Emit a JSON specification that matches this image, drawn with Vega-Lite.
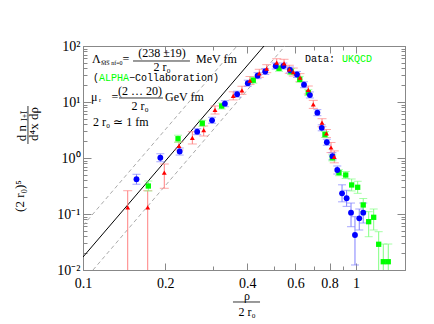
{
  "$schema": "https://vega.github.io/schema/vega-lite/v6.json",
  "width": 322,
  "height": 224,
  "autosize": {"type": "none"},
  "padding": {"left": 83, "top": 46, "right": 29, "bottom": 54},
  "background": "white",
  "config": {
    "view": {"stroke": "#888888", "strokeWidth": 1},
    "axis": {"grid": false, "domainColor": "#888888", "tickColor": "#888888", "labelFont": "Liberation Serif", "labelFontSize": 14, "labelColor": "#000000"}
  },
  "datasets": {
    "blue": [
      {"x": 0.157, "y": 0.417, "lo": 0.340, "hi": 0.512},
      {"x": 0.192, "y": 1.01, "lo": 0.857, "hi": 1.19},
      {"x": 0.226, "y": 1.31, "lo": 1.13, "hi": 1.51},
      {"x": 0.262, "y": 2.95, "lo": 2.61, "hi": 3.34},
      {"x": 0.297, "y": 4.71, "lo": 4.17, "hi": 5.33},
      {"x": 0.331, "y": 9.33, "lo": 8.25, "hi": 10.55},
      {"x": 0.367, "y": 13.8, "lo": 12.2, "hi": 15.6},
      {"x": 0.4015, "y": 21.7, "lo": 19.2, "hi": 24.5},
      {"x": 0.436, "y": 29.5, "lo": 26.1, "hi": 33.4},
      {"x": 0.465, "y": 35.1, "lo": 31.0, "hi": 39.7},
      {"x": 0.508, "y": 43.9, "lo": 38.8, "hi": 49.7},
      {"x": 0.542, "y": 43.9, "lo": 38.8, "hi": 49.7},
      {"x": 0.573, "y": 37.3, "lo": 33.0, "hi": 42.2},
      {"x": 0.608, "y": 31.0, "lo": 27.4, "hi": 35.1},
      {"x": 0.645, "y": 20.4, "lo": 18.0, "hi": 23.0},
      {"x": 0.678, "y": 13.3, "lo": 11.8, "hi": 15.1},
      {"x": 0.722, "y": 6.44, "lo": 5.7, "hi": 7.3},
      {"x": 0.749, "y": 3.46, "lo": 3.06, "hi": 3.91},
      {"x": 0.782, "y": 1.91, "lo": 1.69, "hi": 2.16},
      {"x": 0.820, "y": 1.08, "lo": 0.93, "hi": 1.24},
      {"x": 0.854, "y": 0.611, "lo": 0.518, "hi": 0.72},
      {"x": 0.889, "y": 0.234, "lo": 0.165, "hi": 0.332},
      {"x": 0.924, "y": 0.191, "lo": 0.137, "hi": 0.265},
      {"x": 0.959, "y": 0.1055, "lo": 0.0593, "hi": 0.157},
      {"x": 0.9915, "y": 0.0422, "lo": 0.0123, "hi": 0.0895},
      {"x": 1.028, "y": 0.0838, "lo": 0.0518, "hi": 0.1228},
      {"x": 1.063, "y": 0.1055, "lo": 0.069, "hi": 0.157}
    ],
    "red": [
      {"x": 0.1458, "y": 0.1318, "lo": 0.001, "hi": 0.2606},
      {"x": 0.1726, "y": 0.1318, "lo": 0.001, "hi": 0.2606},
      {"x": 0.1985, "y": 0.5465, "lo": 0.288, "hi": 0.781},
      {"x": 0.2247, "y": 1.64, "lo": 1.39, "hi": 1.93},
      {"x": 0.2515, "y": 2.28, "lo": 1.78, "hi": 2.95},
      {"x": 0.2768, "y": 3.16, "lo": 2.47, "hi": 3.73},
      {"x": 0.3045, "y": 7.2, "lo": 6.1, "hi": 8.5},
      {"x": 0.3551, "y": 12.9, "lo": 10.9, "hi": 15.2},
      {"x": 0.3822, "y": 16.2, "lo": 13.7, "hi": 19.1},
      {"x": 0.409, "y": 24.2, "lo": 20.5, "hi": 28.5},
      {"x": 0.4423, "y": 32.5, "lo": 27.6, "hi": 38.4},
      {"x": 0.471, "y": 39.3, "lo": 33.4, "hi": 46.4},
      {"x": 0.5124, "y": 50.3, "lo": 42.7, "hi": 59.3},
      {"x": 0.5451, "y": 49.1, "lo": 41.7, "hi": 57.9},
      {"x": 0.5698, "y": 38.4, "lo": 32.6, "hi": 45.3},
      {"x": 0.5893, "y": 34.3, "lo": 29.1, "hi": 40.4},
      {"x": 0.6235, "y": 27.2, "lo": 23.1, "hi": 32.1},
      {"x": 0.6688, "y": 16.4, "lo": 13.9, "hi": 19.3},
      {"x": 0.6975, "y": 9.1, "lo": 7.7, "hi": 10.7},
      {"x": 0.7508, "y": 4.27, "lo": 3.62, "hi": 5.03},
      {"x": 0.7796, "y": 2.74, "lo": 2.32, "hi": 3.23},
      {"x": 0.81, "y": 1.54, "lo": 1.25, "hi": 1.89},
      {"x": 0.8327, "y": 1.05, "lo": 0.82, "hi": 1.34}
    ],
    "green": [
      {"x": 0.1735, "y": 0.316, "lo": 0.258, "hi": 0.388},
      {"x": 0.2229, "y": 2.21, "lo": 1.91, "hi": 2.55},
      {"x": 0.2735, "y": 4.17, "lo": 3.69, "hi": 4.72},
      {"x": 0.3221, "y": 8.48, "lo": 7.5, "hi": 9.59},
      {"x": 0.4205, "y": 24.5, "lo": 21.7, "hi": 27.7},
      {"x": 0.5224, "y": 40.0, "lo": 35.4, "hi": 45.2},
      {"x": 0.578, "y": 34.8, "lo": 30.8, "hi": 39.4},
      {"x": 0.6223, "y": 25.4, "lo": 22.5, "hi": 28.7},
      {"x": 0.6688, "y": 14.7, "lo": 13.0, "hi": 16.6},
      {"x": 0.7697, "y": 2.63, "lo": 2.33, "hi": 2.97},
      {"x": 0.819, "y": 1.01, "lo": 0.89, "hi": 1.14},
      {"x": 0.8664, "y": 0.5465, "lo": 0.483, "hi": 0.618},
      {"x": 0.917, "y": 0.497, "lo": 0.43, "hi": 0.574},
      {"x": 0.9643, "y": 0.33, "lo": 0.258, "hi": 0.422},
      {"x": 1.0144, "y": 0.30, "lo": 0.234, "hi": 0.384},
      {"x": 1.063, "y": 0.145, "lo": 0.111, "hi": 0.189},
      {"x": 1.113, "y": 0.0729, "lo": 0.0393, "hi": 0.11},
      {"x": 1.161, "y": 0.0873, "lo": 0.0518, "hi": 0.1228},
      {"x": 1.211, "y": 0.0288, "lo": 0.001, "hi": 0.0483},
      {"x": 1.259, "y": 0.01406, "lo": 0.001, "hi": 0.0291},
      {"x": 1.313, "y": 0.01406, "lo": 0.001, "hi": 0.0291}
    ],
    "solid": [
      {"x": 0.1, "y": 0.01706},
      {"x": 0.4603, "y": 100}
    ],
    "dashed": [
      {"id": "upper", "x": 0.1, "y": 0.0621},
      {"id": "upper", "x": 0.3665, "y": 100},
      {"id": "lower", "x": 0.1088, "y": 0.01},
      {"id": "lower", "x": 0.5495, "y": 100}
    ],
    "serifLeft": [
      {"x": 0.1079, "y": 58.6, "t": "Λ"},
      {"x": 0.2594, "y": 58.6, "t": "MeV fm"},
      {"x": 0.107, "y": 12.29, "t": "μ"},
      {"x": 0.1997, "y": 12.29, "t": "GeV fm"},
      {"x": 0.1088, "y": 4.394, "t": "2 r₀ ≃ 1 fm"}
    ],
    "serifCenter": [
      {"x": 0.1437, "y": 58.6, "t": "="},
      {"x": 0.1948, "y": 75.0, "t": "(238  ±19)"},
      {"x": 0.1948, "y": 42.17, "t": "2 r₀"},
      {"x": 0.131, "y": 12.29, "t": "="},
      {"x": 0.1618, "y": 15.72, "t": "(2 … 20)"},
      {"x": 0.1618, "y": 8.483, "t": "2 r₀"},
      {"x": 0.3988, "y": 0.003435, "t": "ρ"},
      {"x": 0.3988, "y": 0.001778, "t": "2 r₀"}
    ],
    "serifSub": [
      {"x": 0.1164, "y": 49.7, "t": "M̅S̅ nf=0"},
      {"x": 0.1144, "y": 10.86, "t": "r"}
    ],
    "monoBlack": [
      {"x": 0.1088, "y": 26.83, "t": "("},
      {"x": 0.1474, "y": 26.83, "t": "−Collaboration)"},
      {"x": 0.6505, "y": 58.6, "t": "Data:"}
    ],
    "monoGreen": [
      {"x": 0.1144, "y": 26.83, "t": "ALPHA"},
      {"x": 0.8886, "y": 58.6, "t": "UKQCD"}
    ],
    "rotMain": [
      {"x": 0.05877, "y": 0.2097, "t": "(2 r₀)⁵"},
      {"x": 0.05978, "y": 2.795, "t": "d n"},
      {"x": 0.06613, "y": 4.047, "t": "d⁴x dρ"}
    ],
    "rotSub": [
      {"x": 0.0613, "y": 5.623, "t": "I+Ī"}
    ],
    "hbars": [
      {"x": 0.1525, "x2": 0.2465, "y": 53.97},
      {"x": 0.1355, "x2": 0.1963, "y": 11.79},
      {"x": 0.3543, "x2": 0.4451, "y": 0.002683}
    ],
    "vbars": [
      {"x": 0.06286, "y": 8.483, "y2": 1.778}
    ]
  },
  "layer": [
    {
      "data": {"name": "dashed"},
      "mark": {"type": "line", "color": "#aaaaaa", "strokeDash": [4, 3], "strokeWidth": 1, "clip": true},
      "encoding": {
        "x": {"field": "x", "type": "quantitative", "scale": {"type": "log", "domain": [0.1, 1.512], "nice": false}, "axis": null},
        "y": {"field": "y", "type": "quantitative", "scale": {"type": "log", "domain": [0.01, 100], "nice": false}, "axis": null},
        "detail": {"field": "id"}
      }
    },
    {
      "data": {"name": "solid"},
      "mark": {"type": "line", "color": "#000000", "strokeWidth": 1, "clip": true},
      "encoding": {
        "x": {"field": "x", "type": "quantitative", "axis": null},
        "y": {"field": "y", "type": "quantitative", "axis": null}
      }
    },
    {
      "data": {"name": "red"},
      "mark": {"type": "rule", "color": "#ff8080", "strokeWidth": 1, "clip": true},
      "encoding": {
        "x": {"field": "x", "type": "quantitative", "axis": null},
        "y": {"field": "lo", "type": "quantitative", "axis": null},
        "y2": {"field": "hi"}
      }
    },
    {
      "data": {"name": "red"},
      "transform": [{"fold": ["lo", "hi"], "as": ["k", "v"]}],
      "mark": {"type": "tick", "orient": "horizontal", "color": "#ff8080", "size": 9, "thickness": 1, "clip": true},
      "encoding": {
        "x": {"field": "x", "type": "quantitative", "axis": null},
        "y": {"field": "v", "type": "quantitative", "axis": null}
      }
    },
    {
      "data": {"name": "blue"},
      "mark": {"type": "rule", "color": "#8080ff", "strokeWidth": 1, "clip": true},
      "encoding": {
        "x": {"field": "x", "type": "quantitative", "axis": null},
        "y": {"field": "lo", "type": "quantitative", "axis": null},
        "y2": {"field": "hi"}
      }
    },
    {
      "data": {"name": "blue"},
      "transform": [{"fold": ["lo", "hi"], "as": ["k", "v"]}],
      "mark": {"type": "tick", "orient": "horizontal", "color": "#8080ff", "size": 8, "thickness": 1, "clip": true},
      "encoding": {
        "x": {"field": "x", "type": "quantitative", "axis": null},
        "y": {"field": "v", "type": "quantitative", "axis": null}
      }
    },
    {
      "data": {"name": "green"},
      "mark": {"type": "rule", "color": "#80ff80", "strokeWidth": 1, "clip": true},
      "encoding": {
        "x": {"field": "x", "type": "quantitative", "axis": null},
        "y": {"field": "lo", "type": "quantitative", "axis": null},
        "y2": {"field": "hi"}
      }
    },
    {
      "data": {"name": "green"},
      "transform": [{"fold": ["lo", "hi"], "as": ["k", "v"]}],
      "mark": {"type": "tick", "orient": "horizontal", "color": "#80ff80", "size": 8, "thickness": 1, "clip": true},
      "encoding": {
        "x": {"field": "x", "type": "quantitative", "axis": null},
        "y": {"field": "v", "type": "quantitative", "axis": null}
      }
    },
    {
      "data": {"name": "green"},
      "mark": {"type": "point", "shape": "square", "filled": true, "color": "#00ff00", "size": 28, "opacity": 1, "clip": true},
      "encoding": {
        "x": {"field": "x", "type": "quantitative", "axis": null},
        "y": {"field": "y", "type": "quantitative", "axis": null}
      }
    },
    {
      "data": {"name": "blue"},
      "mark": {"type": "point", "shape": "circle", "filled": true, "color": "#0000ff", "size": 34, "opacity": 1, "clip": true},
      "encoding": {
        "x": {"field": "x", "type": "quantitative", "axis": {
          "orient": "bottom", "title": null, "format": "~g",
          "values": [0.1, 0.2, 0.3, 0.4, 0.5, 0.6, 0.7, 0.8, 0.9, 1],
          "labelExpr": "(datum.value==0.3||datum.value==0.5||datum.value==0.7||datum.value==0.9) ? '' : datum.label",
          "tickSize": {"condition": {"test": "datum.value==0.3||datum.value==0.5||datum.value==0.7||datum.value==0.9", "value": -4}, "value": -7},
          "labelPadding": 13, "labelFlush": false, "labelOverlap": false
        }},
        "y": {"field": "y", "type": "quantitative", "axis": {
          "orient": "left", "title": null,
          "values": [0.01, 0.02, 0.03, 0.04, 0.05, 0.06, 0.07, 0.08, 0.09, 0.1, 0.2, 0.3, 0.4, 0.5, 0.6, 0.7, 0.8, 0.9, 1, 2, 3, 4, 5, 6, 7, 8, 9, 10, 20, 30, 40, 50, 60, 70, 80, 90, 100],
          "labelExpr": "datum.value==100?'10²':datum.value==10?'10¹':datum.value==1?'10⁰':datum.value==0.1?'10⁻¹':datum.value==0.01?'10⁻²':''",
          "tickSize": {"condition": {"test": "datum.value==100||datum.value==10||datum.value==1||datum.value==0.1||datum.value==0.01", "value": -8}, "value": -4},
          "labelPadding": 11, "labelFlush": false, "labelOverlap": false
        }}
      }
    },
    {
      "data": {"name": "red"},
      "mark": {"type": "point", "shape": "triangle-up", "filled": true, "color": "#ff0000", "size": 24, "opacity": 1, "clip": true},
      "encoding": {
        "x": {"field": "x", "type": "quantitative", "axis": {
          "orient": "top", "title": null, "labels": false,
          "values": [0.1, 0.2, 0.3, 0.4, 0.5, 0.6, 0.7, 0.8, 0.9, 1],
          "tickSize": {"condition": {"test": "datum.value==0.3||datum.value==0.5||datum.value==0.7||datum.value==0.9", "value": -4}, "value": -7}
        }},
        "y": {"field": "y", "type": "quantitative", "axis": {
          "orient": "right", "title": null, "labels": false,
          "values": [0.01, 0.02, 0.03, 0.04, 0.05, 0.06, 0.07, 0.08, 0.09, 0.1, 0.2, 0.3, 0.4, 0.5, 0.6, 0.7, 0.8, 0.9, 1, 2, 3, 4, 5, 6, 7, 8, 9, 10, 20, 30, 40, 50, 60, 70, 80, 90, 100],
          "tickSize": {"condition": {"test": "datum.value==100||datum.value==10||datum.value==1||datum.value==0.1||datum.value==0.01", "value": -8}, "value": -4}
        }}
      }
    },
    {
      "data": {"name": "hbars"},
      "mark": {"type": "rule", "color": "#000000", "strokeWidth": 0.8},
      "encoding": {
        "x": {"field": "x", "type": "quantitative", "axis": null},
        "x2": {"field": "x2"},
        "y": {"field": "y", "type": "quantitative", "axis": null}
      }
    },
    {
      "data": {"name": "vbars"},
      "mark": {"type": "rule", "color": "#000000", "strokeWidth": 0.8},
      "encoding": {
        "x": {"field": "x", "type": "quantitative", "axis": null},
        "y": {"field": "y", "type": "quantitative", "axis": null},
        "y2": {"field": "y2"}
      }
    },
    {
      "data": {"name": "serifLeft"},
      "mark": {"type": "text", "font": "Liberation Serif", "fontSize": 12, "align": "left", "baseline": "middle", "color": "#000000"},
      "encoding": {
        "x": {"field": "x", "type": "quantitative", "axis": null},
        "y": {"field": "y", "type": "quantitative", "axis": null},
        "text": {"field": "t"}
      }
    },
    {
      "data": {"name": "serifCenter"},
      "mark": {"type": "text", "font": "Liberation Serif", "fontSize": 12, "align": "center", "baseline": "middle", "color": "#000000"},
      "encoding": {
        "x": {"field": "x", "type": "quantitative", "axis": null},
        "y": {"field": "y", "type": "quantitative", "axis": null},
        "text": {"field": "t"}
      }
    },
    {
      "data": {"name": "serifSub"},
      "mark": {"type": "text", "font": "Liberation Serif", "fontSize": 6, "align": "left", "baseline": "middle", "color": "#000000"},
      "encoding": {
        "x": {"field": "x", "type": "quantitative", "axis": null},
        "y": {"field": "y", "type": "quantitative", "axis": null},
        "text": {"field": "t"}
      }
    },
    {
      "data": {"name": "monoBlack"},
      "mark": {"type": "text", "font": "Liberation Mono", "fontSize": 10, "align": "left", "baseline": "middle", "color": "#000000"},
      "encoding": {
        "x": {"field": "x", "type": "quantitative", "axis": null},
        "y": {"field": "y", "type": "quantitative", "axis": null},
        "text": {"field": "t"}
      }
    },
    {
      "data": {"name": "monoGreen"},
      "mark": {"type": "text", "font": "Liberation Mono", "fontSize": 10, "align": "left", "baseline": "middle", "color": "#00ff00"},
      "encoding": {
        "x": {"field": "x", "type": "quantitative", "axis": null},
        "y": {"field": "y", "type": "quantitative", "axis": null},
        "text": {"field": "t"}
      }
    },
    {
      "data": {"name": "rotMain"},
      "mark": {"type": "text", "font": "Liberation Serif", "fontSize": 13, "align": "center", "baseline": "middle", "angle": 270, "color": "#000000"},
      "encoding": {
        "x": {"field": "x", "type": "quantitative", "axis": null},
        "y": {"field": "y", "type": "quantitative", "axis": null},
        "text": {"field": "t"},
        "angle": {"value": 270}
      }
    },
    {
      "data": {"name": "rotSub"},
      "mark": {"type": "text", "font": "Liberation Serif", "fontSize": 8, "align": "center", "baseline": "middle", "angle": 270, "color": "#000000"},
      "encoding": {
        "x": {"field": "x", "type": "quantitative", "axis": null},
        "y": {"field": "y", "type": "quantitative", "axis": null},
        "text": {"field": "t"},
        "angle": {"value": 270}
      }
    }
  ],
  "resolve": {"axis": {"x": "independent", "y": "independent"}}
}
